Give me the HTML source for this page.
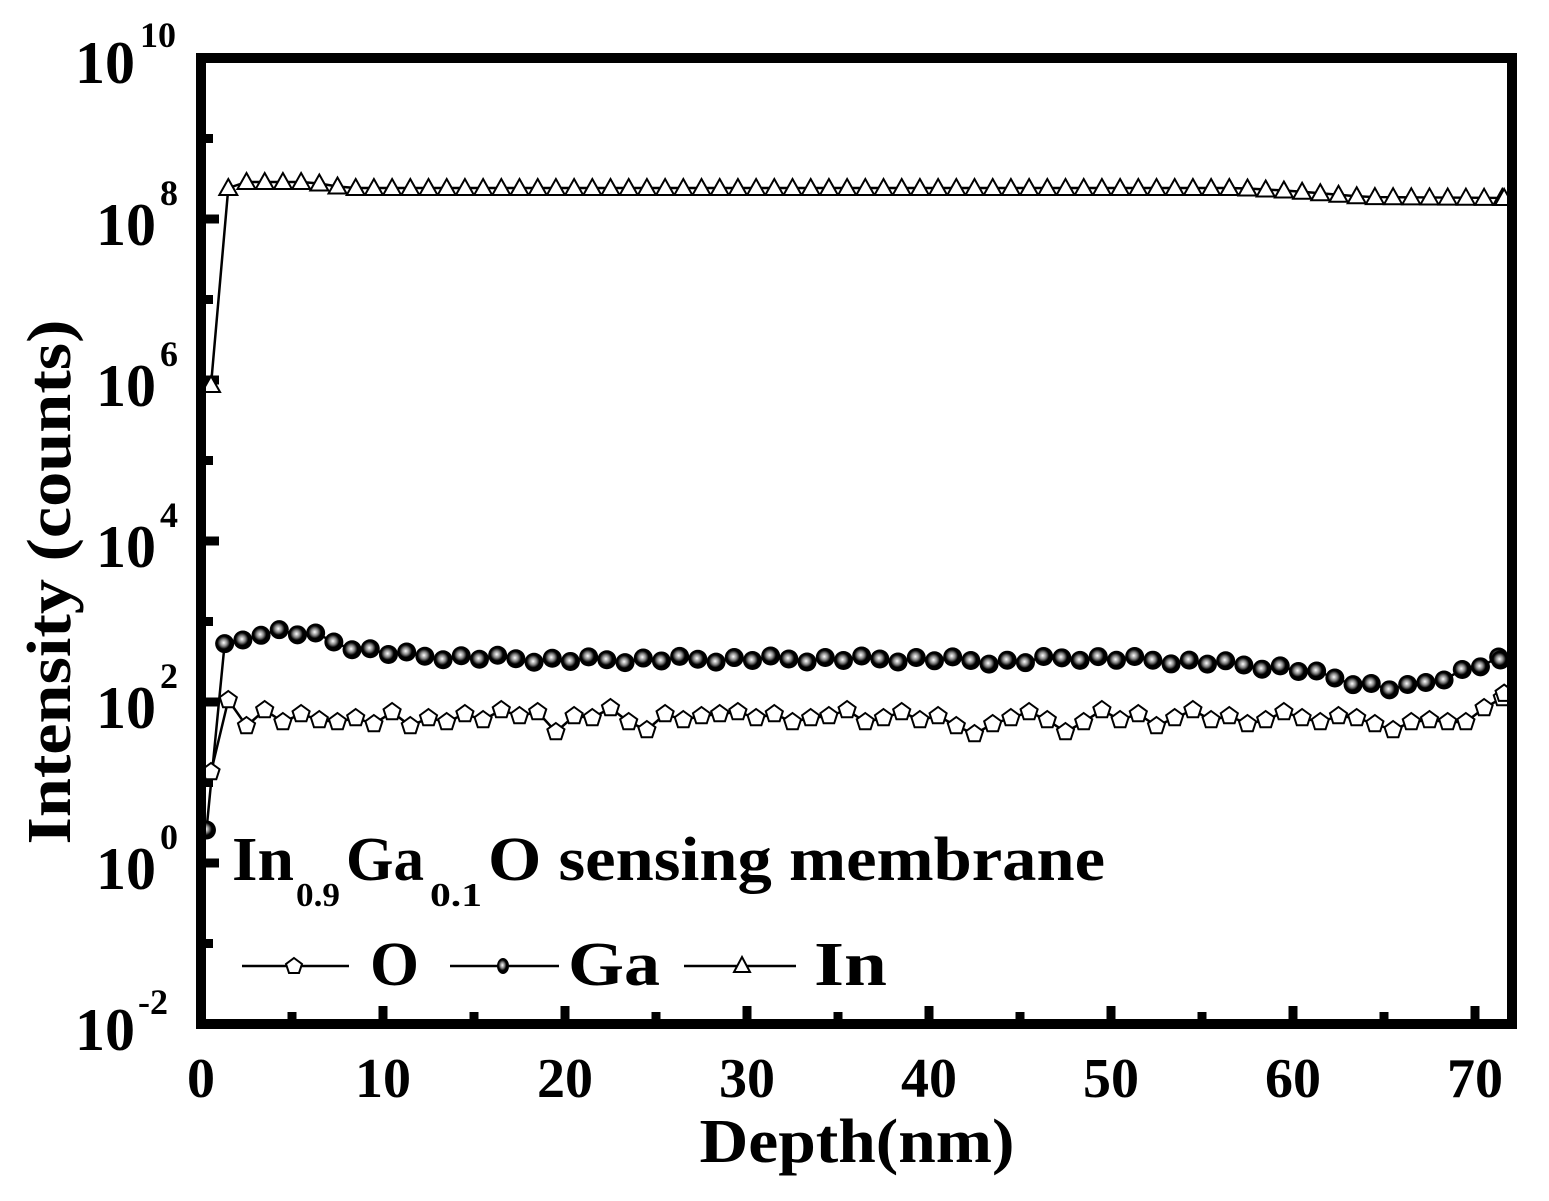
<!DOCTYPE html>
<html><head><meta charset="utf-8"><style>
html,body{margin:0;padding:0;background:#fff;}
svg{display:block;}
text{font-family:"Liberation Serif",serif;font-weight:bold;fill:#000;}
</style></head><body>
<svg id="s" width="1549" height="1201" viewBox="0 0 1549 1201" xmlns="http://www.w3.org/2000/svg">
<defs>
<radialGradient id="gb" cx="0.45" cy="0.45" r="0.6">
<stop offset="0" stop-color="#fff"/><stop offset="0.3" stop-color="#888"/><stop offset="0.55" stop-color="#000"/></radialGradient>
</defs>
<g id="ticks"></g>
<g id="data"></g>
<rect x="201" y="58" width="1311" height="966" fill="none" stroke="#000" stroke-width="10"/>
<text x="135" y="83" font-size="60" text-anchor="end">10</text><text x="140" y="47" font-size="36">10</text>
<text x="156" y="245" font-size="60" text-anchor="end">10</text><text x="160" y="205" font-size="36">8</text>
<text x="156" y="406" font-size="60" text-anchor="end">10</text><text x="160" y="366" font-size="36">6</text>
<text x="156" y="567" font-size="60" text-anchor="end">10</text><text x="160" y="527" font-size="36">4</text>
<text x="156" y="728" font-size="60" text-anchor="end">10</text><text x="160" y="688" font-size="36">2</text>
<text x="156" y="889" font-size="60" text-anchor="end">10</text><text x="160" y="849" font-size="36">0</text>
<text x="135" y="1050" font-size="60" text-anchor="end">10</text><text x="138" y="1014" font-size="36">-2</text>
<g font-size="56" text-anchor="middle">
<text x="201" y="1097">0</text><text x="383" y="1097">10</text><text x="565" y="1097">20</text>
<text x="747" y="1097">30</text><text x="929" y="1097">40</text><text x="1111" y="1097">50</text>
<text x="1293" y="1097">60</text><text x="1475" y="1097">70</text>
</g>
<text x="857" y="1162" font-size="62" text-anchor="middle" textLength="315" lengthAdjust="spacingAndGlyphs">Depth(nm)</text>
<text transform="translate(70,582) rotate(-90)" font-size="62" text-anchor="middle" textLength="525" lengthAdjust="spacingAndGlyphs">Intensity (counts)</text>
<text x="232" y="880" font-size="62" textLength="62" lengthAdjust="spacingAndGlyphs">In</text>
<text x="296" y="906" font-size="34" textLength="44" lengthAdjust="spacingAndGlyphs">0.9</text>
<text x="346" y="880" font-size="62" textLength="78" lengthAdjust="spacingAndGlyphs">Ga</text>
<text x="430" y="906" font-size="34" textLength="52" lengthAdjust="spacingAndGlyphs">0.1</text>
<text x="488" y="880" font-size="62" textLength="617" lengthAdjust="spacingAndGlyphs">O sensing membrane</text>
<g stroke="#000" stroke-width="2.5">
<line x1="242" y1="966" x2="349" y2="966"/><line x1="450" y1="966" x2="559" y2="966"/><line x1="684" y1="966" x2="796" y2="966"/>
</g>
<polygon points="294,958 302,964 299,973 289,973 286,964" fill="#fff" stroke="#000" stroke-width="2"/>
<ellipse cx="503" cy="966" rx="6" ry="8" fill="url(#gb)"/>
<polygon points="742,957 750,972 734,972" fill="#fff" stroke="#000" stroke-width="2"/>
<text x="370" y="985" font-size="62" textLength="49" lengthAdjust="spacingAndGlyphs">O</text>
<text x="568" y="985" font-size="62" textLength="92" lengthAdjust="spacingAndGlyphs">Ga</text>
<text x="814" y="985" font-size="62" textLength="73" lengthAdjust="spacingAndGlyphs">In</text>
</svg>
<script>
var NS="http://www.w3.org/2000/svg";
function el(p,n,a){var e=document.createElementNS(NS,n);for(var k in a)e.setAttribute(k,a[k]);p.appendChild(e);return e;}
var T=document.getElementById("ticks"),D=document.getElementById("data");
var X=function(d){return 201+d*18.2;};
for(var i=0;i<=12;i++){var y=58+i*80.5;var L=(i%2==0)?18:12;
el(T,"line",{x1:201,y1:y,x2:201+L,y2:y,stroke:"#000","stroke-width":9});}
for(var d=5;d<=70;d+=5){var L=(d%10==0)?18:12;
el(T,"line",{x1:X(d),y1:1024,x2:X(d),y2:1024-L,stroke:"#000","stroke-width":9});}
function interp(pts,x){for(var i=0;i<pts.length-1;i++){if(x<=pts[i+1][0]){var a=pts[i],b=pts[i+1];return a[1]+(b[1]-a[1])*(x-a[0])/(b[0]-a[0]);}}return pts[pts.length-1][1];}
var inP=[[1.5,188],[2.5,182],[6,182],[8,188],[57,188],[60,191],[64,197],[72,198]];
var gaP=[[1.3,648],[2.5,640],[3.8,630],[5,632],[6.5,636],[8,645],[10,652],[12,656],[20,660],[30,659],[40,659],[45,662],[48,657],[55,662],[60,668],[63,680],[66,690],[68,680],[70,668],[71.5,660]];
var oW=[0,22,6,18,10,16,18,14,20,8,22,14,18,10,16,6,12,8,28,12,14,4,18,26,10,16,12,10,8,14,10,18,14,12,6,18,14,8,16,12,22,30,20,14,8,16,28,18,6,16,10,22,14,6,16,12,20,16,8,14,18,12,14,20,26,18,16,20,24,14,8,4];
var inPts=[[X(0.55),385]],gaPts=[[X(0.3),830]],oPts=[[X(0.55),772]];
for(var k=0;k<72;k++){var d=1.5+k;if(d>71.6)d=71.6;
inPts.push([X(d),interp(inP,d)]);
var gv=interp(gaP,d)+((k*7)%5-2)*1.5;gaPts.push([X(d-0.2),gv]);
var ov=700; if(k>0) ov=704+oW[k%oW.length]; if(d>68)ov-= (d-68)*4;
oPts.push([X(d),ov]);}
function line(p){el(D,"polyline",{points:p.map(function(q){return q.join(",")}).join(" "),fill:"none",stroke:"#000","stroke-width":2.5});}
line(inPts);line(gaPts);line(oPts);
inPts.forEach(function(p){el(D,"polygon",{points:(p[0])+","+(p[1]-9)+" "+(p[0]+9)+","+(p[1]+7)+" "+(p[0]-9)+","+(p[1]+7),fill:"#fff",stroke:"#000","stroke-width":2});});
oPts.forEach(function(p){var s="";for(var j=0;j<5;j++){var a=-Math.PI/2+j*2*Math.PI/5;s+=(p[0]+9*Math.cos(a))+","+(p[1]+9*Math.sin(a))+" ";}
el(D,"polygon",{points:s,fill:"#fff",stroke:"#000","stroke-width":2});});
gaPts.forEach(function(p){el(D,"circle",{cx:p[0],cy:p[1],r:9.5,fill:"url(#gb)"});});
</script>
</body></html>
